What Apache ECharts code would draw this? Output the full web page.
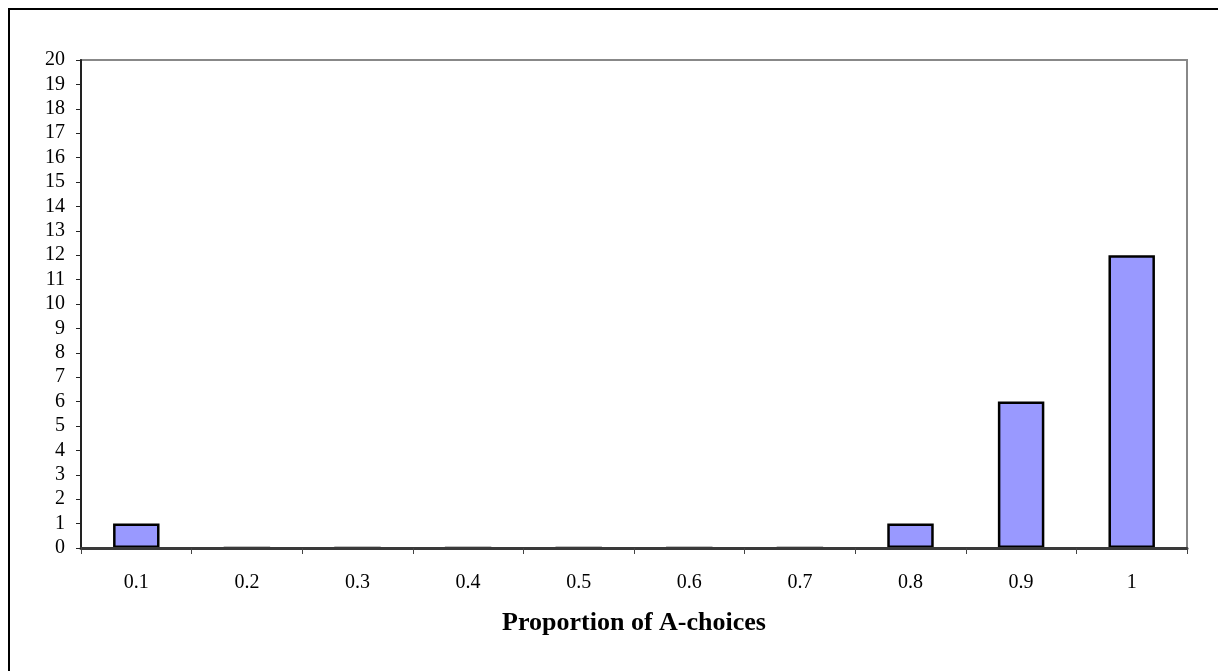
<!DOCTYPE html>
<html>
<head>
<meta charset="utf-8">
<script src="https://cdn.jsdelivr.net/npm/echarts@6/dist/echarts.min.js"></script>
<style>
html,body{margin:0;padding:0;background:#fff;}
#frame{position:absolute;left:8px;top:8px;width:1300px;height:800px;border-left:2px solid #000;border-top:2px solid #000;}
#chart{position:absolute;left:0;top:0;width:1218px;height:671px;}
</style>
</head>
<body>
<div id="frame"></div>
<div id="chart"></div>
<script>
const categories = ['0.1','0.2','0.3','0.4','0.5','0.6','0.7','0.8','0.9','1'];
const counts = [1,0,0,0,0,0,0,1,6,12];
const xTitle = 'Proportion of A-choices';

const chart = echarts.init(document.getElementById('chart'));
chart.setOption({
  animation:false,
  backgroundColor:'transparent',
  grid:{left:81,right:31,top:60,bottom:123,show:true,borderColor:'#888',borderWidth:2,backgroundColor:'transparent'},
  xAxis:{
    type:'category',data:categories,z:5,
    axisLine:{lineStyle:{color:'#3a3a3a',width:3}},
    axisTick:{show:true,length:6,lineStyle:{color:'#444',width:1}},
    axisLabel:{color:'#000',fontFamily:'Liberation Serif',fontSize:20,margin:25},
    name:xTitle,nameLocation:'middle',nameGap:62,
    nameTextStyle:{color:'#000',fontFamily:'Liberation Serif',fontSize:26,fontWeight:'bold'}
  },
  yAxis:{
    type:'value',min:0,max:20,interval:1,z:5,
    axisLine:{show:true,lineStyle:{color:'#222',width:2}},
    axisTick:{show:true,length:5,lineStyle:{color:'#222',width:1}},
    axisLabel:{color:'#000',fontFamily:'Liberation Serif',fontSize:20,margin:16},
    splitLine:{show:false}
  },
  series:[{
    type:'bar',data:counts,barWidth:'42%',z:2,
    itemStyle:{color:'#9999FF',borderColor:'#000',borderWidth:2.5}
  }]
});
</script>
</body>
</html>
